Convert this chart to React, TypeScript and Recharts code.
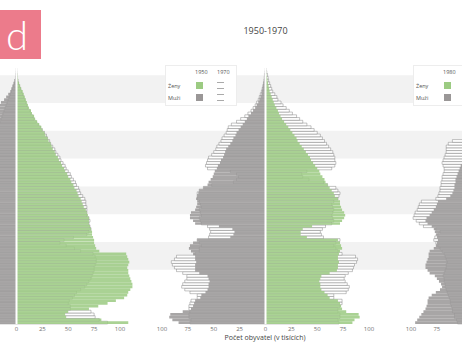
import { BarChart, Bar, XAxis, YAxis, ReferenceArea, ReferenceLine } from "recharts";

// age categories 0..100, shaded decades and x ticks (thousands, both sides)
const AGES = [...Array(101).keys()];
const SHADED_DECADES = [0, 20, 40, 60, 80];
const TICKS_ALL = [-100, -75, -50, -25, 0, 25, 50, 75, 100];
const TICKS_LEFT = [0, 25, 50, 75, 100];
const TICKS_RIGHT = [-100, -75];

// left panel (mostly cropped)
const LEFT_WOMEN_A = [
  108, 82, 48, 47, 50, 70, 79, 88, 96, 104,
  107, 108, 110, 112, 112, 111, 110, 109, 108, 108,
  107, 108, 109, 108, 107, 106, 80, 77, 76, 75,
  75, 74, 73, 73, 72, 71, 70, 70, 70, 69,
  68, 67, 65, 64, 63, 62, 60, 59, 58, 56,
  55, 53, 52, 50, 49, 47, 46, 44, 43, 41,
  40, 38, 37, 35, 34, 33, 31, 30, 28, 27,
  25, 24, 22, 20, 18, 17, 15, 14, 12, 11,
  10, 9, 8, 7, 6, 4.5, 3.5, 2.5, 1.5, 1,
  0.8, 0.5, 0.3, 0, 0, 0, 0, 0, 0, 0, 0,
];
const LEFT_WOMEN_B = [
  88, 80, 76, 75, 72, 52, 52, 50, 51, 54,
  56, 58, 62, 66, 68, 70, 72, 73, 74, 75,
  75, 76, 77, 77, 76, 74, 62, 56, 48, 42,
  46, 55, 68, 70, 72, 71, 70, 71, 70, 68,
  68, 68, 68, 67, 67, 66, 64, 62, 61, 60,
  58, 57, 55, 53, 52, 50, 48, 47, 45, 43,
  42, 40, 38, 37, 35, 33, 32, 30, 29, 27,
  25, 23, 21, 19, 17, 16, 14, 13, 11, 10,
  9, 8, 7, 6, 5, 4, 3, 2, 1.5, 1,
  0.8, 0.5, 0.3, 0, 0, 0, 0, 0, 0, 0, 0,
];
const LEFT_MEN_A = [
  110, 85, 50, 49, 52, 72, 80, 90, 98, 106,
  110, 112, 114, 115, 115, 114, 113, 112, 111, 110,
  109, 110, 110, 109, 108, 106, 82, 78, 76, 74,
  72, 70, 68, 68, 67, 66, 65, 65, 64, 63,
  62, 61, 60, 59, 58, 57, 55, 54, 53, 51,
  50, 48, 47, 45, 44, 42, 41, 39, 38, 36,
  35, 33, 32, 30, 29, 27, 26, 25, 24, 24,
  23, 22, 21, 21, 20, 20, 19, 18, 17, 16,
  15, 12, 10, 8, 6, 5, 4, 3, 2, 1,
  0.7, 0.5, 0.3, 0, 0, 0, 0, 0, 0, 0, 0,
];
const LEFT_MEN_B = [
  90, 82, 78, 77, 74, 54, 54, 52, 53, 56,
  58, 60, 64, 68, 70, 72, 74, 75, 76, 77,
  77, 78, 79, 79, 78, 76, 64, 58, 50, 44,
  48, 56, 66, 68, 69, 68, 67, 67, 66, 65,
  64, 63, 62, 61, 60, 58, 56, 54, 53, 52,
  50, 49, 47, 45, 44, 42, 40, 38, 36, 34,
  32, 30, 29, 27, 26, 24, 23, 22, 21, 20,
  19, 18, 17, 16, 15, 14, 13, 12, 11, 10,
  9, 8, 7, 6, 5, 4, 3, 2, 1.5, 1,
  0.7, 0.5, 0.3, 0, 0, 0, 0, 0, 0, 0, 0,
];

// middle panel: 1950 (filled) vs 1970 (outline)
const WOMEN_1950 = [
  84, 86, 91, 90, 78, 74, 73, 72, 70, 62,
  60, 57, 54, 53, 53, 52, 53, 54, 62, 69,
  70, 70, 71, 70, 70, 71, 72, 74, 73, 72,
  70, 40, 34, 34, 36, 45, 72, 74, 76, 77,
  76, 74, 73, 72, 72, 70, 67, 66, 64, 62,
  60, 58, 57, 55, 53, 52, 50, 48, 46, 44,
  43, 41, 39, 37, 35, 33, 31, 30, 28, 26,
  24, 22, 20, 18, 16, 14.5, 13, 12, 10.5, 9,
  8, 7, 6, 5, 4, 3.5, 3, 2.5, 2, 1.5,
  1, 0.6, 0.3, 0, 0, 0, 0, 0, 0, 0, 0,
];
const WOMEN_1970 = [
  71, 70, 72, 72, 70, 70, 72, 74, 74, 66,
  66, 78, 80, 81, 79, 77, 76, 77, 80, 84,
  85, 86, 88, 89, 87, 74, 70, 68, 66, 68,
  72, 56, 54, 53, 55, 58, 64, 66, 65, 64,
  65, 66, 65, 64, 66, 70, 71, 72, 70, 68,
  60, 56, 42, 36, 35, 40, 64, 67, 68, 67,
  67, 66, 65, 63, 61, 59, 57, 55, 53, 50,
  47, 44, 40, 36, 33, 30, 26, 23, 20, 17,
  15, 12, 11, 9, 7, 6, 5, 4, 3, 2.5,
  2, 1.2, 0.6, 0, 0, 0, 0, 0, 0, 0, 0,
];
const MEN_1950 = [
  84, 90, 93, 92, 80, 72, 70, 69, 68, 63,
  62, 58, 56, 55, 55, 54, 55, 56, 64, 68,
  68, 68, 67, 68, 68, 70, 72, 74, 73, 70,
  66, 34, 31, 30, 32, 45, 68, 70, 73, 73,
  72, 68, 67, 66, 66, 67, 66, 65, 64, 60,
  56, 55, 53, 51, 50, 49, 47, 46, 44, 43,
  41, 40, 39, 38, 36, 34, 32, 31, 29, 28,
  26, 24, 22, 20, 18, 16.5, 14, 12, 10, 8.5,
  7, 6, 5, 4, 3.5, 3, 2.5, 2, 1.5, 1.2,
  1, 0.6, 0.3, 0, 0, 0, 0, 0, 0, 0, 0,
];
const MEN_1970 = [
  73, 72, 74, 74, 73, 74, 74, 73, 72, 66,
  66, 73, 78, 81, 80, 78, 76, 76, 80, 86,
  88, 90, 91, 88, 86, 68, 64, 64, 62, 64,
  66, 55, 54, 53, 54, 56, 62, 63, 64, 62,
  63, 64, 62, 63, 64, 66, 66, 66, 64, 60,
  52, 31, 28, 26, 28, 34, 56, 58, 57, 56,
  55, 52, 50, 48, 47, 45, 43, 42, 40, 38,
  37, 36, 33, 28, 24, 20, 17, 14, 12, 10,
  8.5, 7, 6, 5, 4, 3.2, 2.5, 2, 1.5, 1.2,
  1, 0.6, 0.3, 0, 0, 0, 0, 0, 0, 0, 0,
];

// right panel (mostly cropped)
const RIGHT_MEN_A = [
  96, 94, 92, 90, 88, 86, 85, 84, 84, 83,
  80, 76, 72, 70, 71, 73, 75, 77, 82, 84,
  86, 86, 85, 84, 83, 83, 82, 78, 76, 75,
  74, 75, 76, 77, 78, 80, 84, 86, 85, 82,
  80, 78, 76, 75, 74, 66, 62, 60, 59, 58,
  58, 57, 57, 56, 55, 54, 53, 52, 50, 48,
  47, 45, 44, 42, 40, 38, 36, 34, 32, 30,
  28, 26, 24, 22, 20, 18, 16, 14, 12, 10,
  8, 7, 6, 5, 4, 3, 2.5, 2, 1.5, 1,
  0.7, 0.5, 0.3, 0, 0, 0, 0, 0, 0, 0, 0,
];
const RIGHT_MEN_B = [
  55, 56, 58, 58, 60, 60, 61, 62, 62, 63,
  64, 65, 66, 67, 67, 68, 68, 69, 68, 67,
  66, 66, 65, 66, 67, 68, 70, 72, 74, 76,
  78, 77, 74, 72, 76, 88, 92, 95, 98, 97,
  96, 94, 93, 92, 90, 76, 74, 73, 72, 72,
  71, 71, 70, 70, 69, 68, 68, 69, 70, 69,
  68, 67, 66, 66, 66, 64, 60, 48, 44, 40,
  36, 32, 28, 25, 22, 19, 16, 14, 12, 10,
  8, 7, 6, 5, 4, 3, 2.5, 2, 1.5, 1,
  0.7, 0.5, 0.3, 0, 0, 0, 0, 0, 0, 0, 0,
];
const RIGHT_WOMEN_A = [
  92, 90, 88, 86, 84, 82, 81, 80, 80, 79,
  77, 73, 70, 68, 69, 71, 73, 75, 79, 82,
  84, 84, 83, 82, 81, 81, 80, 76, 75, 74,
  73, 74, 75, 76, 77, 79, 83, 85, 84, 81,
  79, 77, 76, 75, 74, 67, 63, 62, 61, 60,
  60, 60, 59, 59, 58, 58, 57, 56, 55, 54,
  53, 52, 51, 50, 48, 47, 45, 44, 42, 40,
  38, 36, 34, 32, 29, 27, 24, 22, 19, 17,
  14, 12, 10, 8, 6.5, 5, 4, 3, 2, 1.5,
  1, 0.6, 0.3, 0, 0, 0, 0, 0, 0, 0, 0,
];
const RIGHT_WOMEN_B = [
  52, 53, 55, 55, 57, 57, 58, 59, 59, 60,
  61, 62, 63, 64, 64, 65, 65, 66, 65, 64,
  64, 64, 63, 64, 65, 66, 68, 70, 72, 74,
  76, 75, 72, 71, 75, 86, 90, 93, 96, 95,
  94, 93, 92, 91, 89, 76, 74, 73, 73, 73,
  72, 72, 72, 71, 71, 71, 71, 72, 73, 72,
  72, 71, 71, 70, 70, 69, 66, 58, 55, 52,
  49, 46, 42, 39, 35, 32, 28, 25, 21, 18,
  15, 12, 10, 8, 6, 4.5, 3.5, 2.5, 2, 1.5,
  1, 0.6, 0.3, 0, 0, 0, 0, 0, 0, 0, 0,
];

const GREEN = "#9ccb82";
const GREY = "#9a9797";
const OUTLINE = "#6a6a6a";

interface PyramidProps {
  left: number;
  ticks: number[];
  menA: number[];
  womenA: number[];
  menB: number[];
  womenB: number[];
}

function Pyramid({ left, ticks, menA, womenA, menB, womenB }: PyramidProps) {
  const data = AGES.map((age, i) => ({
    age,
    mB: -menB[i],
    wB: womenB[i],
    mA: -menA[i],
    wA: womenA[i],
  }));
  return (
    <div style={{ position: "absolute", left, top: 46 }}>
      <BarChart
        width={249}
        height={292}
        data={data}
        layout="vertical"
        stackOffset="sign"
        barCategoryGap={0}
        barGap={-2.7}
        barSize={2.7}
        margin={{ top: 0, right: 0, bottom: 0, left: 0 }}
      >
        <XAxis
          type="number"
          domain={[-120.3, 120.3]}
          ticks={ticks}
          allowDataOverflow
          tickFormatter={(v: number) => String(Math.abs(v))}
          axisLine={false}
          tickLine={false}
          height={14}
          tickSize={2}
          tickMargin={1}
          tick={{ fontSize: 6, fill: "#707070" }}
        />
        <YAxis yAxisId="cat" type="category" dataKey="age" reversed hide />
        <YAxis yAxisId="num" type="number" domain={[-0.5, 100.5]} allowDataOverflow reversed hide />
        {SHADED_DECADES.map((d) => (
          <ReferenceArea key={d} yAxisId="num" y1={d - 0.5} y2={d + 9.5} fill="#f2f2f2" fillOpacity={1} stroke="none" />
        ))}
        <Bar yAxisId="cat" dataKey="mB" stackId="b" fill="#fff" stroke={OUTLINE} strokeWidth={0.4} isAnimationActive={false} />
        <Bar yAxisId="cat" dataKey="wB" stackId="b" fill="#fff" stroke={OUTLINE} strokeWidth={0.4} isAnimationActive={false} />
        <Bar yAxisId="cat" dataKey="mA" stackId="a" fill={GREY} fillOpacity={0.86} isAnimationActive={false} />
        <Bar yAxisId="cat" dataKey="wA" stackId="a" fill={GREEN} fillOpacity={0.86} isAnimationActive={false} />
        <ReferenceLine yAxisId="cat" x={0} stroke="#fff" strokeWidth={2} />
      </BarChart>
    </div>
  );
}

function LegendBox({ left, years }: { left: number; years: string[] }) {
  const sq = { position: "absolute" as const, width: 7, height: 7 };
  const open = { ...sq, background: "#fff", borderTop: "1px solid #aaa", borderBottom: "1px solid #aaa", height: 5 };
  return (
    <div
      style={{
        position: "absolute",
        left,
        top: 65,
        width: 70,
        height: 39,
        background: "#fff",
        border: "1px solid #ededed",
        fontSize: 5.5,
        lineHeight: "6px",
        color: "#555",
      }}
    >
      {years.map((y, i) => (
        <span key={y} style={{ position: "absolute", left: 29 + i * 22, top: 3 }}>
          {y}
        </span>
      ))}
      <span style={{ position: "absolute", left: 2, top: 17 }}>Ženy</span>
      <span style={{ position: "absolute", left: 2, top: 29 }}>Muži</span>
      <div style={{ ...sq, left: 30, top: 16, background: GREEN }} />
      <div style={{ ...open, left: 51, top: 16 }} />
      <div style={{ ...sq, left: 30, top: 28, background: GREY }} />
      <div style={{ ...open, left: 51, top: 28 }} />
    </div>
  );
}

export default function App() {
  return (
    <div
      style={{
        position: "absolute",
        left: 0,
        top: 0,
        width: 462,
        height: 355,
        overflow: "hidden",
        background: "#fff",
        fontFamily: "'Open Sans', sans-serif",
      }}
    >
      <Pyramid left={-108.5} ticks={TICKS_LEFT} menA={LEFT_MEN_A} womenA={LEFT_WOMEN_A} menB={LEFT_MEN_B} womenB={LEFT_WOMEN_B} />
      <Pyramid left={140.5} ticks={TICKS_ALL} menA={MEN_1950} womenA={WOMEN_1950} menB={MEN_1970} womenB={WOMEN_1970} />
      <Pyramid left={389.5} ticks={TICKS_RIGHT} menA={RIGHT_MEN_A} womenA={RIGHT_WOMEN_A} menB={RIGHT_MEN_B} womenB={RIGHT_WOMEN_B} />

      <LegendBox left={165} years={["1950", "1970"]} />
      <LegendBox left={413} years={["1980"]} />

      <div style={{ position: "absolute", left: 0, top: 10, width: 41, height: 49, background: "#ec7b8b" }}>
        <svg width={41} height={49}>
          <text x={6} y={40} fontSize={40} fill="#fff" fontFamily="Lato, sans-serif" fontWeight={300}>
            d
          </text>
        </svg>
      </div>

      <div style={{ position: "absolute", left: 265.5, top: 25, transform: "translateX(-50%)", fontSize: 9, lineHeight: "11px", color: "#444", whiteSpace: "nowrap" }}>
        1950-1970
      </div>
      <div style={{ position: "absolute", left: 265, top: 333, transform: "translateX(-50%)", fontSize: 7, lineHeight: "9px", color: "#444", whiteSpace: "nowrap" }}>
        Počet obyvatel (v tisících)
      </div>
    </div>
  );
}
